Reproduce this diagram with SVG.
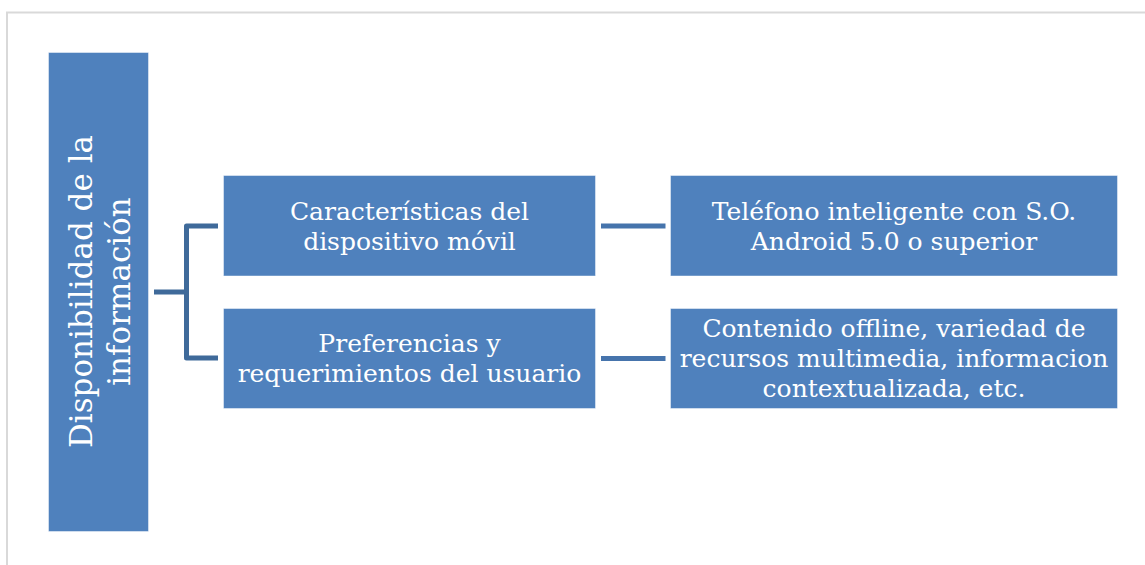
<svg xmlns="http://www.w3.org/2000/svg" width="1145" height="565" viewBox="0 0 1145 565">
<style>
.box{fill:#4f81bd;stroke:#ffffff;stroke-opacity:0.45;stroke-width:1}
.t{font-family:"DejaVu Serif","Liberation Serif",serif;fill:#ffffff;text-anchor:middle}
.m{font-size:25px}
.v{font-size:31px}
.br{fill:none;stroke:#3f6a9a;stroke-width:5;stroke-linejoin:round}
.ln{fill:none;stroke:#4674ac;stroke-width:5}
.frame{fill:none;stroke:#d9d9d9;stroke-width:2}
</style>
<rect width="1145" height="565" fill="#ffffff"/>
<path class="frame" d="M7 565 V12.5 H1145"/>
<g id="connectors">
<path class="br" d="M154 292 H186.5 M218 226 H186.5 V358 H218"/>
<path class="ln" d="M601 226 H665.5"/>
<path class="ln" d="M601 358.5 H665.5"/>
</g>
<g id="root">
<rect class="box" x="48.5" y="52.5" width="100" height="479"/>
<text class="t v" transform="translate(98.5 291.5) rotate(-90)"><tspan x="0" y="-7">Disponibilidad de la</tspan><tspan x="0" y="31">información</tspan></text>
</g>
<g id="n1">
<rect class="box" x="223.5" y="175.5" width="372" height="100.5"/>
<text class="t m"><tspan x="409.5" y="219.5">Características del</tspan><tspan x="409.5" y="249.5">dispositivo móvil</tspan></text>
</g>
<g id="n2">
<rect class="box" x="223.5" y="308.5" width="372" height="100"/>
<text class="t m"><tspan x="409.5" y="352">Preferencias y</tspan><tspan x="409.5" y="382">requerimientos del usuario</tspan></text>
</g>
<g id="n3">
<rect class="box" x="670.5" y="175.5" width="447" height="100.5"/>
<text class="t m"><tspan x="894" y="219.5">Teléfono inteligente con S.O.</tspan><tspan x="894" y="249.5">Android 5.0 o superior</tspan></text>
</g>
<g id="n4">
<rect class="box" x="670.5" y="308.5" width="447" height="100"/>
<text class="t m"><tspan x="894" y="337">Contenido offline, variedad de</tspan><tspan x="894" y="367">recursos multimedia, informacion</tspan><tspan x="894" y="397">contextualizada, etc.</tspan></text>
</g>
</svg>
